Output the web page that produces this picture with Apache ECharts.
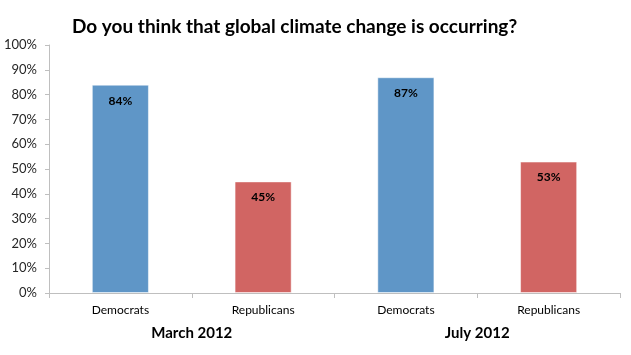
<!DOCTYPE html>
<html>
<head>
<meta charset="utf-8">
<script src="https://cdn.jsdelivr.net/npm/echarts@6/dist/echarts.min.js"></script>
<style>html,body{margin:0;padding:0;background:#fff}#c{width:631px;height:355px}</style>
</head>
<body>
<div id="c"></div>
<script>
const titleText = "Do you think that global climate change is occurring?";
const categories = ["Democrats", "Republicans", "Democrats", "Republicans"];
const groups = ["March 2012", "July 2012"];
const values = [84, 45, 87, 53];
const barColors = ["#5F96C7", "#D16563", "#5F96C7", "#D16563"];
const yTicks = [0, 10, 20, 30, 40, 50, 60, 70, 80, 90, 100];

const FONT = "Lato, 'Open Sans', sans-serif";
const chart = echarts.init(document.getElementById('c'), null, {renderer: 'canvas'});
chart.setOption({
  animation: false,
  backgroundColor: '#fff',
  title: {
    text: titleText, left: 67, top: 12,
    textStyle: {fontFamily: FONT, fontSize: 19, fontWeight: 'bold', color: '#000'}
  },
  grid: {left: 49, right: 11, top: 45, bottom: 62, containLabel: false},
  xAxis: [{
    type: 'category', data: categories, position: 'bottom',
    axisLine: {lineStyle: {color: '#BFBFBF', width: 1}},
    axisTick: {show: true, alignWithLabel: false, length: 5, lineStyle: {color: '#BFBFBF'}},
    axisLabel: {fontFamily: FONT, fontSize: 12, color: '#000', margin: 11}
  }, {
    type: 'category', data: groups, position: 'bottom', offset: 33,
    axisLine: {show: false}, axisTick: {show: false},
    axisLabel: {fontFamily: FONT, fontSize: 15, fontWeight: 'bold', color: '#000', margin: 0}
  }],
  yAxis: {
    type: 'value', min: yTicks[0], max: yTicks[yTicks.length - 1], interval: yTicks[1] - yTicks[0],
    axisLine: {show: true, lineStyle: {color: '#BFBFBF'}},
    axisTick: {show: true, inside: false, length: 4, lineStyle: {color: '#BFBFBF'}},
    splitLine: {show: false},
    axisLabel: {fontFamily: FONT, fontSize: 13, color: '#262626', margin: 12, formatter: v => v + '%'}
  },
  series: [{
    type: 'bar', xAxisIndex: 0, barWidth: '40%',
    data: values.map((v, i) => ({value: v, itemStyle: {color: barColors[i]}})),
    itemStyle: {borderColor: 'rgba(255,255,255,0.5)', borderWidth: 1},
    label: {
      show: true, position: 'insideTop', distance: 10,
      formatter: p => p.value + '%',
      fontFamily: FONT, fontSize: 12, fontWeight: 'bold', color: '#000'
    }
  }]
});
</script>
</body>
</html>
